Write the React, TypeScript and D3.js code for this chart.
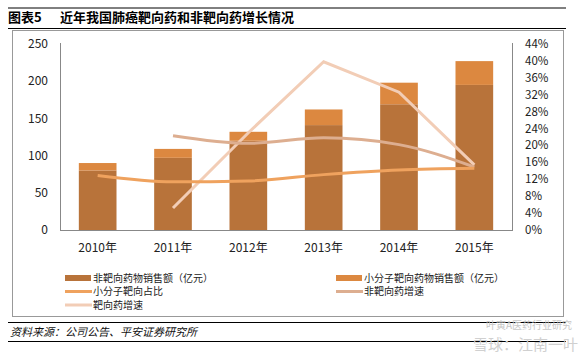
import React from "react";
import * as d3 from "d3";

const years = ["2010年", "2011年", "2012年", "2013年", "2014年", "2015年"];
const nonTargetSales = [80, 97, 120, 141, 169, 195];
const smallMolSales = [10, 12, 12, 21, 29, 32];
const smallMolShare = [12.9, 11.4, 11.6, 13.1, 14.2, 14.6];
const nonTargetGrowth = [null, 22.3, 20.5, 21.8, 20.2, 14.9];
const targetGrowth = [null, 5.2, 23.0, 39.8, 32.6, 15.4];
const leftTicks = [0, 50, 100, 150, 200, 250];
const rightTicks = [0, 4, 8, 12, 16, 20, 24, 28, 32, 36, 40, 44];

const C_DARK = "#B8733A";
const C_LIGHT = "#DC8840";
const C_SHARE = "#EFA25E";
const C_NT = "#DDAE90";
const C_T = "#F2CDB6";

const font = "'Noto Sans CJK SC', 'Noto Sans', sans-serif";

const App = () => {
  const svgRef = React.useRef<SVGSVGElement>(null);
  const width = 584;
  const height = 354;
  const plot = { left: 60, right: 512, top: 44, bottom: 230 };

  React.useEffect(() => {
    const svg = d3.select(svgRef.current);
    svg.selectAll("*").remove();

    const x = d3
      .scaleBand()
      .domain(years)
      .range([plot.left, plot.right])
      .paddingInner(0.5)
      .paddingOuter(0.25);
    const yL = d3.scaleLinear().domain([0, 250]).range([plot.bottom, plot.top]);
    const yR = d3.scaleLinear().domain([0, 44]).range([plot.bottom, plot.top]);

    // header
    svg.append("line").attr("x1", 8).attr("x2", 566).attr("y1", 8).attr("y2", 8).attr("stroke", "#000").attr("stroke-width", 1);
    svg.append("text").attr("x", 8).attr("y", 22).attr("font-size", 13).attr("font-weight", "bold").attr("font-family", font).text("图表5");
    svg.append("text").attr("x", 60).attr("y", 22).attr("font-size", 13).attr("font-weight", "bold").attr("font-family", font).text("近年我国肺癌靶向药和非靶向药增长情况");
    svg.append("line").attr("x1", 8).attr("x2", 566).attr("y1", 28.5).attr("y2", 28.5).attr("stroke", "#000").attr("stroke-width", 1.2);

    // frame
    svg.append("rect").attr("x", 12.5).attr("y", 30.5).attr("width", 551).attr("height", 286).attr("fill", "none").attr("stroke", "#999").attr("stroke-width", 1);

    // bars
    const g = svg.append("g");
    years.forEach((yr, i) => {
      const bx = x(yr)!;
      g.append("rect").attr("x", bx).attr("width", x.bandwidth())
        .attr("y", yL(nonTargetSales[i])).attr("height", yL(0) - yL(nonTargetSales[i])).attr("fill", C_DARK);
      const tot = nonTargetSales[i] + smallMolSales[i];
      g.append("rect").attr("x", bx).attr("width", x.bandwidth())
        .attr("y", yL(tot)).attr("height", yL(nonTargetSales[i]) - yL(tot)).attr("fill", C_LIGHT);
    });

    // axes
    const axisColor = "#888";
    svg.append("line").attr("x1", plot.left + 0.5).attr("x2", plot.left + 0.5).attr("y1", plot.top - 1).attr("y2", plot.bottom).attr("stroke", axisColor);
    svg.append("line").attr("x1", plot.right + 0.5).attr("x2", plot.right + 0.5).attr("y1", plot.top - 1).attr("y2", plot.bottom).attr("stroke", axisColor);
    svg.append("line").attr("x1", plot.left).attr("x2", plot.right + 1).attr("y1", plot.bottom + 0.5).attr("y2", plot.bottom + 0.5).attr("stroke", axisColor);

    leftTicks.forEach((t) => {
      svg.append("text").attr("x", 48).attr("y", yL(t)).attr("dy", "0.35em").attr("text-anchor", "end")
        .attr("font-size", 12).attr("font-family", font).attr("fill", "#222").text(t);
    });
    rightTicks.forEach((t) => {
      svg.append("text").attr("x", 525).attr("y", yR(t)).attr("dy", "0.35em").attr("text-anchor", "start")
        .attr("font-size", 11.5).attr("font-family", font).attr("fill", "#222").text(t + "%");
    });
    years.forEach((yr) => {
      svg.append("text").attr("x", x(yr)! + x.bandwidth() / 2).attr("y", 248).attr("dy", "0.35em").attr("text-anchor", "middle")
        .attr("font-size", 12).attr("font-family", font).attr("fill", "#222").text(yr);
    });

    // lines
    const cx = (i: number) => x(years[i])! + x.bandwidth() / 2;
    const mkLine = (curve: d3.CurveFactory) =>
      d3.line<number | null>()
        .defined((d) => d !== null)
        .x((_, i) => cx(i))
        .y((d) => yR(d as number))
        .curve(curve);

    svg.append("path").datum(targetGrowth).attr("fill", "none").attr("stroke", C_T).attr("stroke-width", 3)
      .attr("d", mkLine(d3.curveLinear));
    svg.append("path").datum(nonTargetGrowth).attr("fill", "none").attr("stroke", C_NT).attr("stroke-width", 3)
      .attr("d", mkLine(d3.curveMonotoneX));
    svg.append("path").datum(smallMolShare).attr("fill", "none").attr("stroke", C_SHARE).attr("stroke-width", 3)
      .attr("d", mkLine(d3.curveMonotoneX));

    // legend
    const legend = [
      { label: "非靶向药物销售额（亿元）", color: C_DARK, bar: true, x: 65, y: 278 },
      { label: "小分子靶向药物销售额（亿元）", color: C_LIGHT, bar: true, x: 336, y: 278 },
      { label: "小分子靶向占比", color: C_SHARE, bar: false, x: 65, y: 291.5 },
      { label: "非靶向药增速", color: C_NT, bar: false, x: 336, y: 291.5 },
      { label: "靶向药增速", color: C_T, bar: false, x: 65, y: 305 },
    ];
    legend.forEach((l) => {
      if (l.bar) {
        svg.append("rect").attr("x", l.x).attr("y", l.y - 3).attr("width", 26).attr("height", 6).attr("fill", l.color);
      } else {
        svg.append("line").attr("x1", l.x).attr("x2", l.x + 27).attr("y1", l.y).attr("y2", l.y).attr("stroke", l.color).attr("stroke-width", 3);
      }
      svg.append("text").attr("x", l.x + 28).attr("y", l.y).attr("dy", "0.35em").attr("font-size", 10)
        .attr("font-family", font).attr("fill", "#222").text(l.label);
    });

    // footer
    svg.append("line").attr("x1", 8).attr("x2", 566).attr("y1", 322.5).attr("y2", 322.5).attr("stroke", "#000");
    svg.append("text").attr("x", 10).attr("y", 336).attr("font-size", 11).attr("font-style", "italic")
      .attr("font-family", font).attr("fill", "#111").text("资料来源：公司公告、平安证券研究所");
    svg.append("line").attr("x1", 8).attr("x2", 566).attr("y1", 341.5).attr("y2", 341.5).attr("stroke", "#000");

    // watermark
    svg.append("text").attr("x", 572).attr("y", 329).attr("text-anchor", "end").attr("font-size", 10)
      .attr("font-family", font).attr("fill", "#c8c8c8").text("叶寅A医药行业研究");
    svg.append("text").attr("x", 578).attr("y", 350).attr("text-anchor", "end").attr("font-size", 15)
      .attr("font-family", font).attr("fill", "#d0d0d0").text("雪球：江南一叶");
  }, []);

  return (
    <svg
      ref={svgRef}
      width={width}
      height={height}
      style={{ position: "absolute", left: 0, top: 0, background: "#fff" }}
    />
  );
};

export default App;
